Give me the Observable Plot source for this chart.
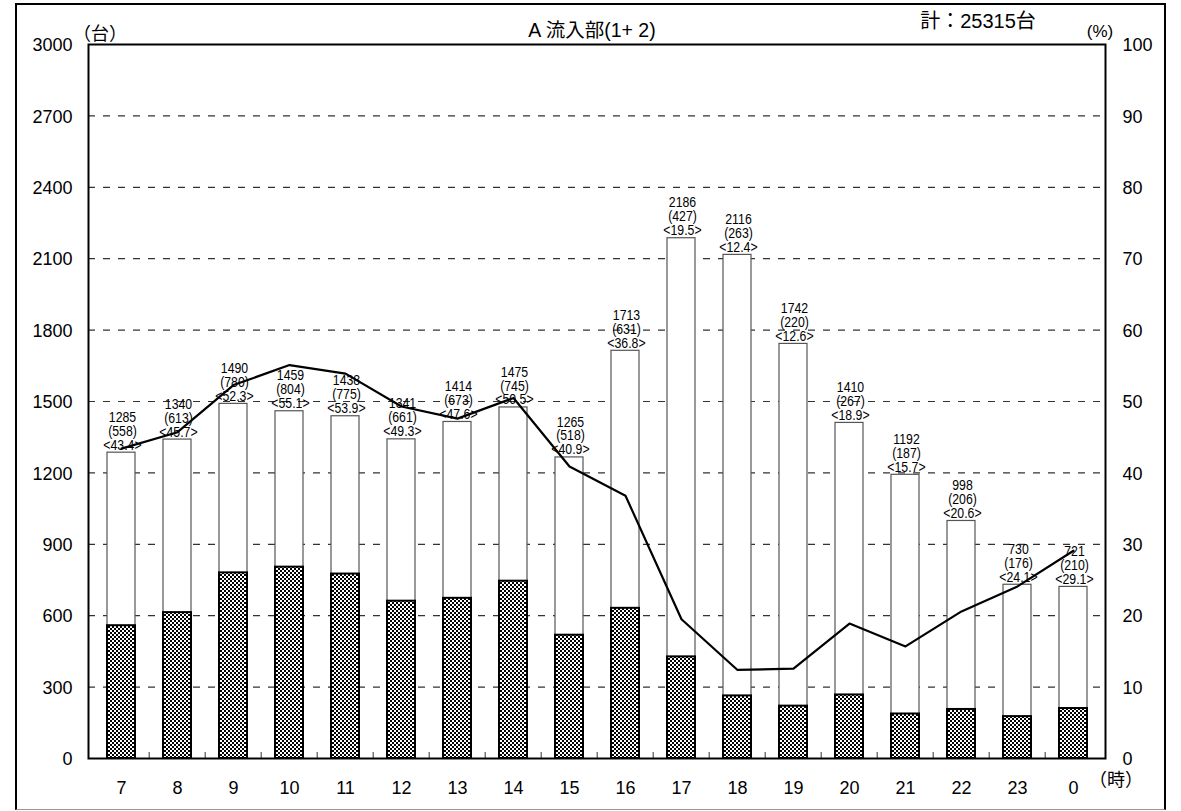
<!DOCTYPE html>
<html><head><meta charset="utf-8">
<script src="https://cdn.jsdelivr.net/npm/d3@7"></script>
<script src="https://cdn.jsdelivr.net/npm/@observablehq/plot@0.6"></script>
<style>
html,body{margin:0;padding:0;background:#fff;}
#wrap{position:relative;width:1181px;height:811px;overflow:hidden;font-family:"Liberation Sans",Arial,"Noto Sans CJK JP",sans-serif;color:#000;}
#wrap svg{position:absolute;left:0;top:0;}
#border{position:absolute;left:15px;top:3px;width:1147px;height:804px;border:2px solid #000;border-bottom:1px solid #999;pointer-events:none;}
.lab{position:absolute;white-space:nowrap;line-height:1;transform:translate(-50%,-50%);}
.cjk{font-family:"Noto Sans CJK JP","Liberation Sans",sans-serif;}
</style></head>
<body><div id="wrap"><div id="border"></div></div>
<script>
// ---- data ----
const hours  = ["7","8","9","10","11","12","13","14","15","16","17","18","19","20","21","22","23","0"];
const totals = [1285,1340,1490,1459,1438,1341,1414,1475,1265,1713,2186,2116,1742,1410,1192,998,730,721];
const large  = [558,613,780,804,775,661,673,745,518,631,427,263,220,267,187,206,176,210];
const pct    = [43.4,45.7,52.3,55.1,53.9,49.3,47.6,50.5,40.9,36.8,19.5,12.4,12.6,18.9,15.7,20.6,24.1,29.1];
const leftTicks  = [0,300,600,900,1200,1500,1800,2100,2400,2700,3000];
const rightTicks = [0,10,20,30,40,50,60,70,80,90,100];
const titleText = "A 流入部(1+ 2)";
const totalText = "計：25315台";
const unitLeft = "（台）";
const unitRight = "(%)";
const unitX = "（時）";

// ---- build ----
const W = 1181, H = 811, mL = 88, mR = 76, mT = 44, mB = 53;
const yMax = leftTicks[leftTicks.length-1];
const ratio = yMax / rightTicks[rightTicks.length-1];
const data = hours.map((h,i) => ({hour:h, total:totals[i], large:large[i], pct:pct[i]}));
const step = (W - mL - mR) / hours.length;

const chart = Plot.plot({
  width: W, height: H,
  marginLeft: mL, marginRight: mR, marginTop: mT, marginBottom: mB,
  style: {fontFamily: "'Liberation Sans', Arial, sans-serif", fontSize: "18px", color: "#000", background: "transparent", overflow: "visible"},
  x: {type: "band", domain: hours, paddingInner: 0.5, paddingOuter: 0.25},
  y: {domain: [0, yMax]},
  marks: [
    Plot.ruleY(leftTicks.slice(1, -1), {stroke: "#333", strokeWidth: 1.2, strokeDasharray: "7,8"}),
    Plot.barY(data, {x: "hour", y: "total", fill: "white", stroke: "#555", strokeWidth: 1.2}),
    Plot.barY(data, {x: "hour", y: "large", fill: "url(#chk)", stroke: "#000", strokeWidth: 2}),
    Plot.ruleX(hours.slice(1), {x: d => d, y1: 0, y2: 25, dx: -step/2, stroke: "#777", strokeWidth: 1.5}),
    Plot.text(data, {x: "hour", y: "total",
      text: d => `${d.total}\n(${d.large})\n<${d.pct.toFixed(1)}>`,
      lineAnchor: "bottom", lineHeight: 0.93, dy: -3, dx: 1,
      fontFamily: "'Liberation Sans', Arial, sans-serif", fontSize: 15, fill: "#000", className: "barlbl"}),
    Plot.line(data, {x: "hour", y: d => d.pct * ratio, stroke: "#000", strokeWidth: 2.2, strokeLinejoin: "round"}),
    Plot.frame({stroke: "#000", strokeWidth: 2}),
    Plot.axisY({anchor: "left", ticks: leftTicks, tickFormat: d => String(d), tickSize: 0, tickPadding: 16, dy: 1, fontSize: 18, label: null}),
    Plot.axisY({anchor: "right", ticks: rightTicks.map(v => v * ratio), tickFormat: d => String(Math.round(d / ratio)), tickSize: 0, tickPadding: 17, dy: 1, fontSize: 18, label: null}),
    Plot.axisX({anchor: "bottom", tickSize: 0, tickPadding: 23, fontSize: 18, label: null})
  ]
});

const ns = "http://www.w3.org/2000/svg";
const defs = document.createElementNS(ns, "defs");
defs.innerHTML = `<pattern id="chk" patternUnits="userSpaceOnUse" x="0" y="0" width="4" height="4">
  <rect width="4" height="4" fill="#000"/>
  <rect x="0" y="0" width="2" height="2" fill="#fff"/>
  <rect x="2" y="2" width="2" height="2" fill="#fff"/></pattern>`;
chart.insertBefore(defs, chart.firstChild);

// horizontally condense the bar labels (narrow face look)
chart.querySelectorAll("g.barlbl text").forEach(t => {
  const tr = t.getAttribute("transform") || "";
  t.setAttribute("transform", tr + " scale(0.82,1)");
});

const wrap = document.getElementById("wrap");
wrap.insertBefore(chart, wrap.firstChild);

function addLabel(text, cx, cy, size, cls){
  const d = document.createElement("div");
  d.className = "lab" + (cls ? " " + cls : "");
  d.style.left = cx + "px"; d.style.top = cy + "px"; d.style.fontSize = size + "px";
  d.textContent = text;
  wrap.appendChild(d);
}
addLabel(unitLeft, 100, 32, 18, "cjk");
addLabel(titleText, 592, 31, 19.5);
addLabel(totalText, 978, 21, 20);
addLabel(unitRight, 1100, 31, 17);
addLabel(unitX, 1116, 778, 18, "cjk");
</script>
</body></html>
